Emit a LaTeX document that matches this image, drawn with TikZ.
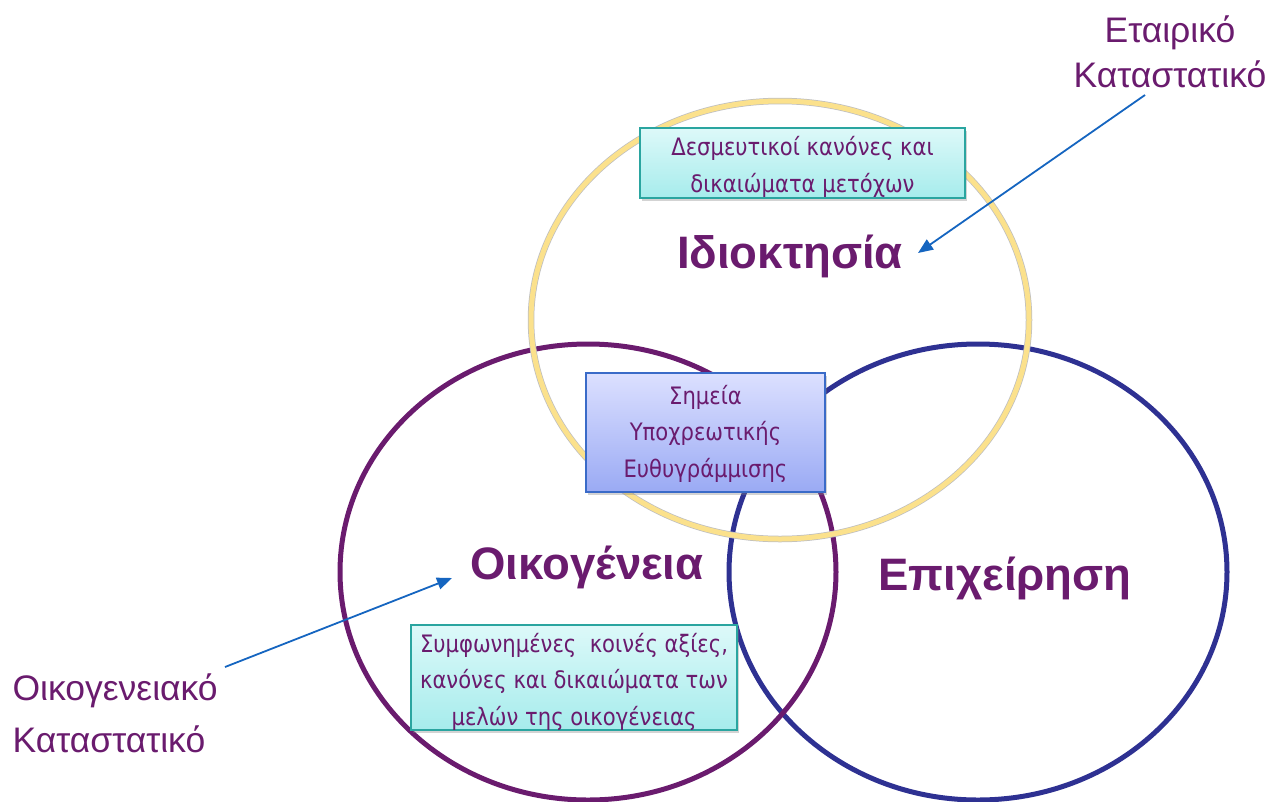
\documentclass[tikz,border=0pt]{standalone}
\usepackage{fontspec}
\setmainfont{Liberation Sans}
\newfontfamily\boxfont[FakeStretch=0.88]{DejaVu Sans}
\usetikzlibrary{arrows.meta,shadows}
\definecolor{ownyellow}{HTML}{FBE18C}
\definecolor{fampurple}{HTML}{6A1B6E}
\definecolor{busblue}{HTML}{2E3192}
\definecolor{txtpurple}{HTML}{6A1B6E}
\definecolor{arrowblue}{HTML}{1565C0}
\definecolor{tealedge}{HTML}{2AA5A0}
\definecolor{cyantop}{HTML}{DDF9F9}
\definecolor{cyanbot}{HTML}{A6ECEC}
\definecolor{lavtop}{HTML}{DCE0FF}
\definecolor{lavbot}{HTML}{9AAAF4}
\definecolor{boxblue}{HTML}{3A6BC8}
\tikzset{
  x=1pt, y=-1pt,
  ring/.style={line width=5pt},
  title/.style={font=\fontsize{45.5}{50}\selectfont\bfseries, text=txtpurple},
  charter/.style={font=\fontsize{35.5}{45}\selectfont, text=txtpurple, align=center},
  famcharter/.style={font=\fontsize{35.5}{52}\selectfont, text=txtpurple, align=left},
  boxshade/.style={drop shadow={shadow xshift=2pt, shadow yshift=-3pt, opacity=0.35}},
  infobox/.style={draw=tealedge, line width=1.6pt, top color=cyantop, bottom color=cyanbot,
    boxshade, inner sep=0pt},
  keybox/.style={draw=boxblue, line width=1.6pt, top color=lavtop, bottom color=lavbot,
    boxshade, inner sep=0pt},
  boxtext/.style={text=txtpurple, align=center, inner sep=0pt,
    font=\boxfont\fontsize{24}{36.5}\selectfont},
  pointer/.style={draw=arrowblue, line width=1.8pt, -{Triangle[length=15pt,width=12pt]}}
}
\begin{document}
\begin{tikzpicture}
\useasboundingbox (0,0) rectangle (1280,801);

% the three overlapping circles
\draw[ring, busblue] (978,572) ellipse [x radius=249, y radius=228];
\draw[ring, fampurple] (588,572) ellipse [x radius=248, y radius=228];
\draw[ring, black!25, line width=6.5pt] (780,320) ellipse [x radius=249, y radius=219];
\draw[ring, ownyellow] (780,320) ellipse [x radius=249, y radius=219];

% circle titles
\node[title] (own) at (790,256) {Ιδιοκτησία};
\node[title] (fam) at (587,567) {Οικογένεια};
\node[title] (bus) at (1005,578) {Επιχείρηση};

% text boxes
\node[infobox, minimum width=325, minimum height=70] (shares) at (802.5,163) {};
\node[boxtext] (sharestext) at ([yshift=-4pt]shares.center)
  {Δεσμευτικοί κανόνες και\\δικαιώματα μετόχων};
\node[keybox, minimum width=239, minimum height=119] (align) at (705.5,432.5) {};
\node[boxtext] (aligntext) at ([yshift=-1pt]align.center)
  {Σημεία\\Υποχρεωτικής\\Ευθυγράμμισης};
\node[infobox, minimum width=326, minimum height=105] (values) at (574,677.5) {};
\node[boxtext] (valuestext) at ([yshift=-4pt]values.center)
  {Συμφωνημένες\ \ κοινές αξίες,\\κανόνες και δικαιώματα των\\μελών της οικογένειας};

% charters
\node[charter] (corp) at (1170,52) {Εταιρικό\\Καταστατικό};
\node[famcharter, anchor=west] (famc) at (9,713) {Οικογενειακό\\Καταστατικό};

\coordinate (corptail) at (1145,95);
\coordinate (corptip) at (918,253);
\coordinate (famtail) at (225,667);
\coordinate (famtip) at (452,578);
\draw[pointer] (corptail) -- (corptip);
\draw[pointer] (famtail) -- (famtip);
\end{tikzpicture}
\end{document}
